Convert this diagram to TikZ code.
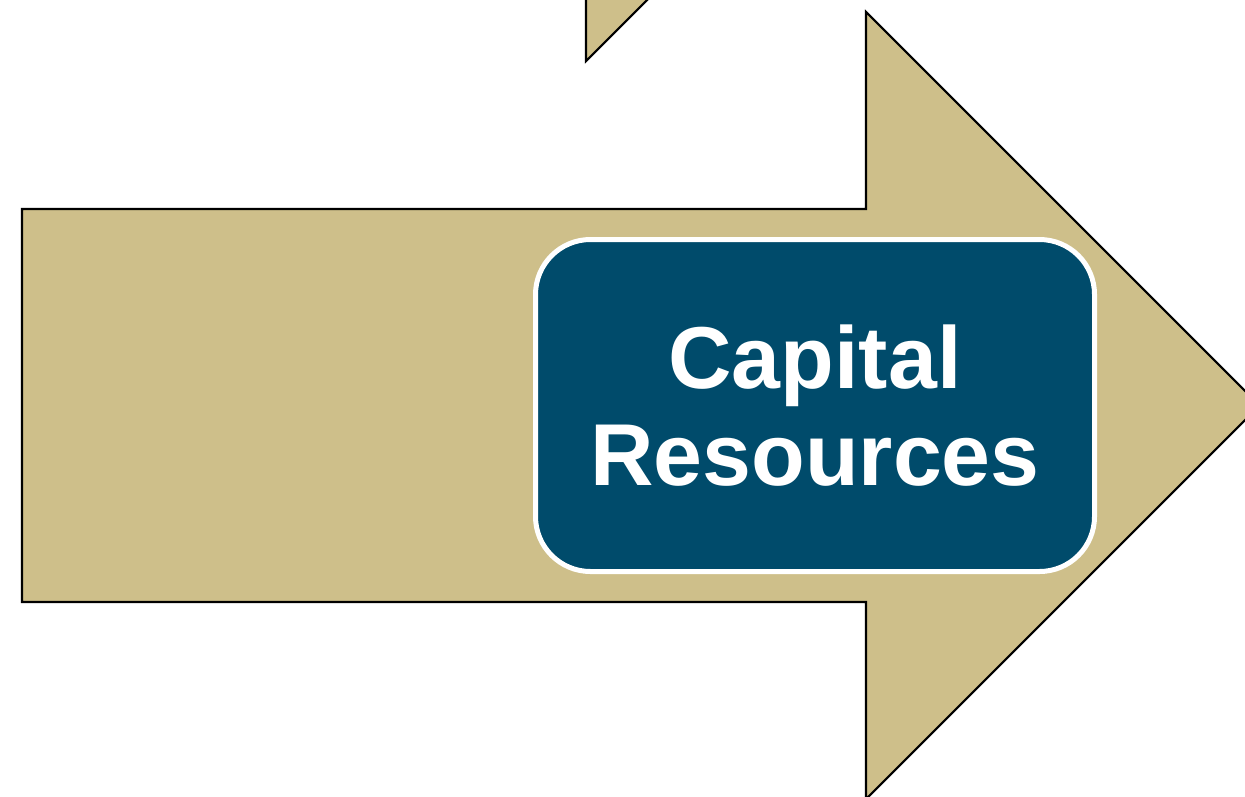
\documentclass[tikz,border=0pt]{standalone}
\usepackage{fontspec}
\setmainfont{Liberation Sans}
\definecolor{tan}{RGB}{206,191,138}
\definecolor{navy}{RGB}{0,75,107}

\def\bigarrow{(0.22,5.87) -- (8.66,5.87) -- (8.66,7.84) -- (12.595,3.905) -- (8.66,-0.03) -- (8.66,1.94) -- (0.22,1.94) -- cycle}
\def\uppertip{(5.86,8.3) -- (5.86,7.35) -- (6.81,8.3)}

\begin{document}
\begin{tikzpicture}[
  arrowfill/.style={fill=tan, draw=black, line width=0.6pt},
  capbox/.style={fill=navy, draw=white, line width=0.05cm, rounded corners=0.55cm,
    minimum width=5.59cm, minimum height=3.32cm, text=white, align=center,
    font=\bfseries\fontsize{25}{27.6}\selectfont}
]
\useasboundingbox (0,0) rectangle (12.45,7.96);
\clip (0,0) rectangle (12.45,7.96);

\filldraw[arrowfill] \uppertip;
\filldraw[arrowfill] \bigarrow;

\node[capbox] (capital) at (8.15,3.905) {Capital\\Resources};
\end{tikzpicture}
\end{document}
